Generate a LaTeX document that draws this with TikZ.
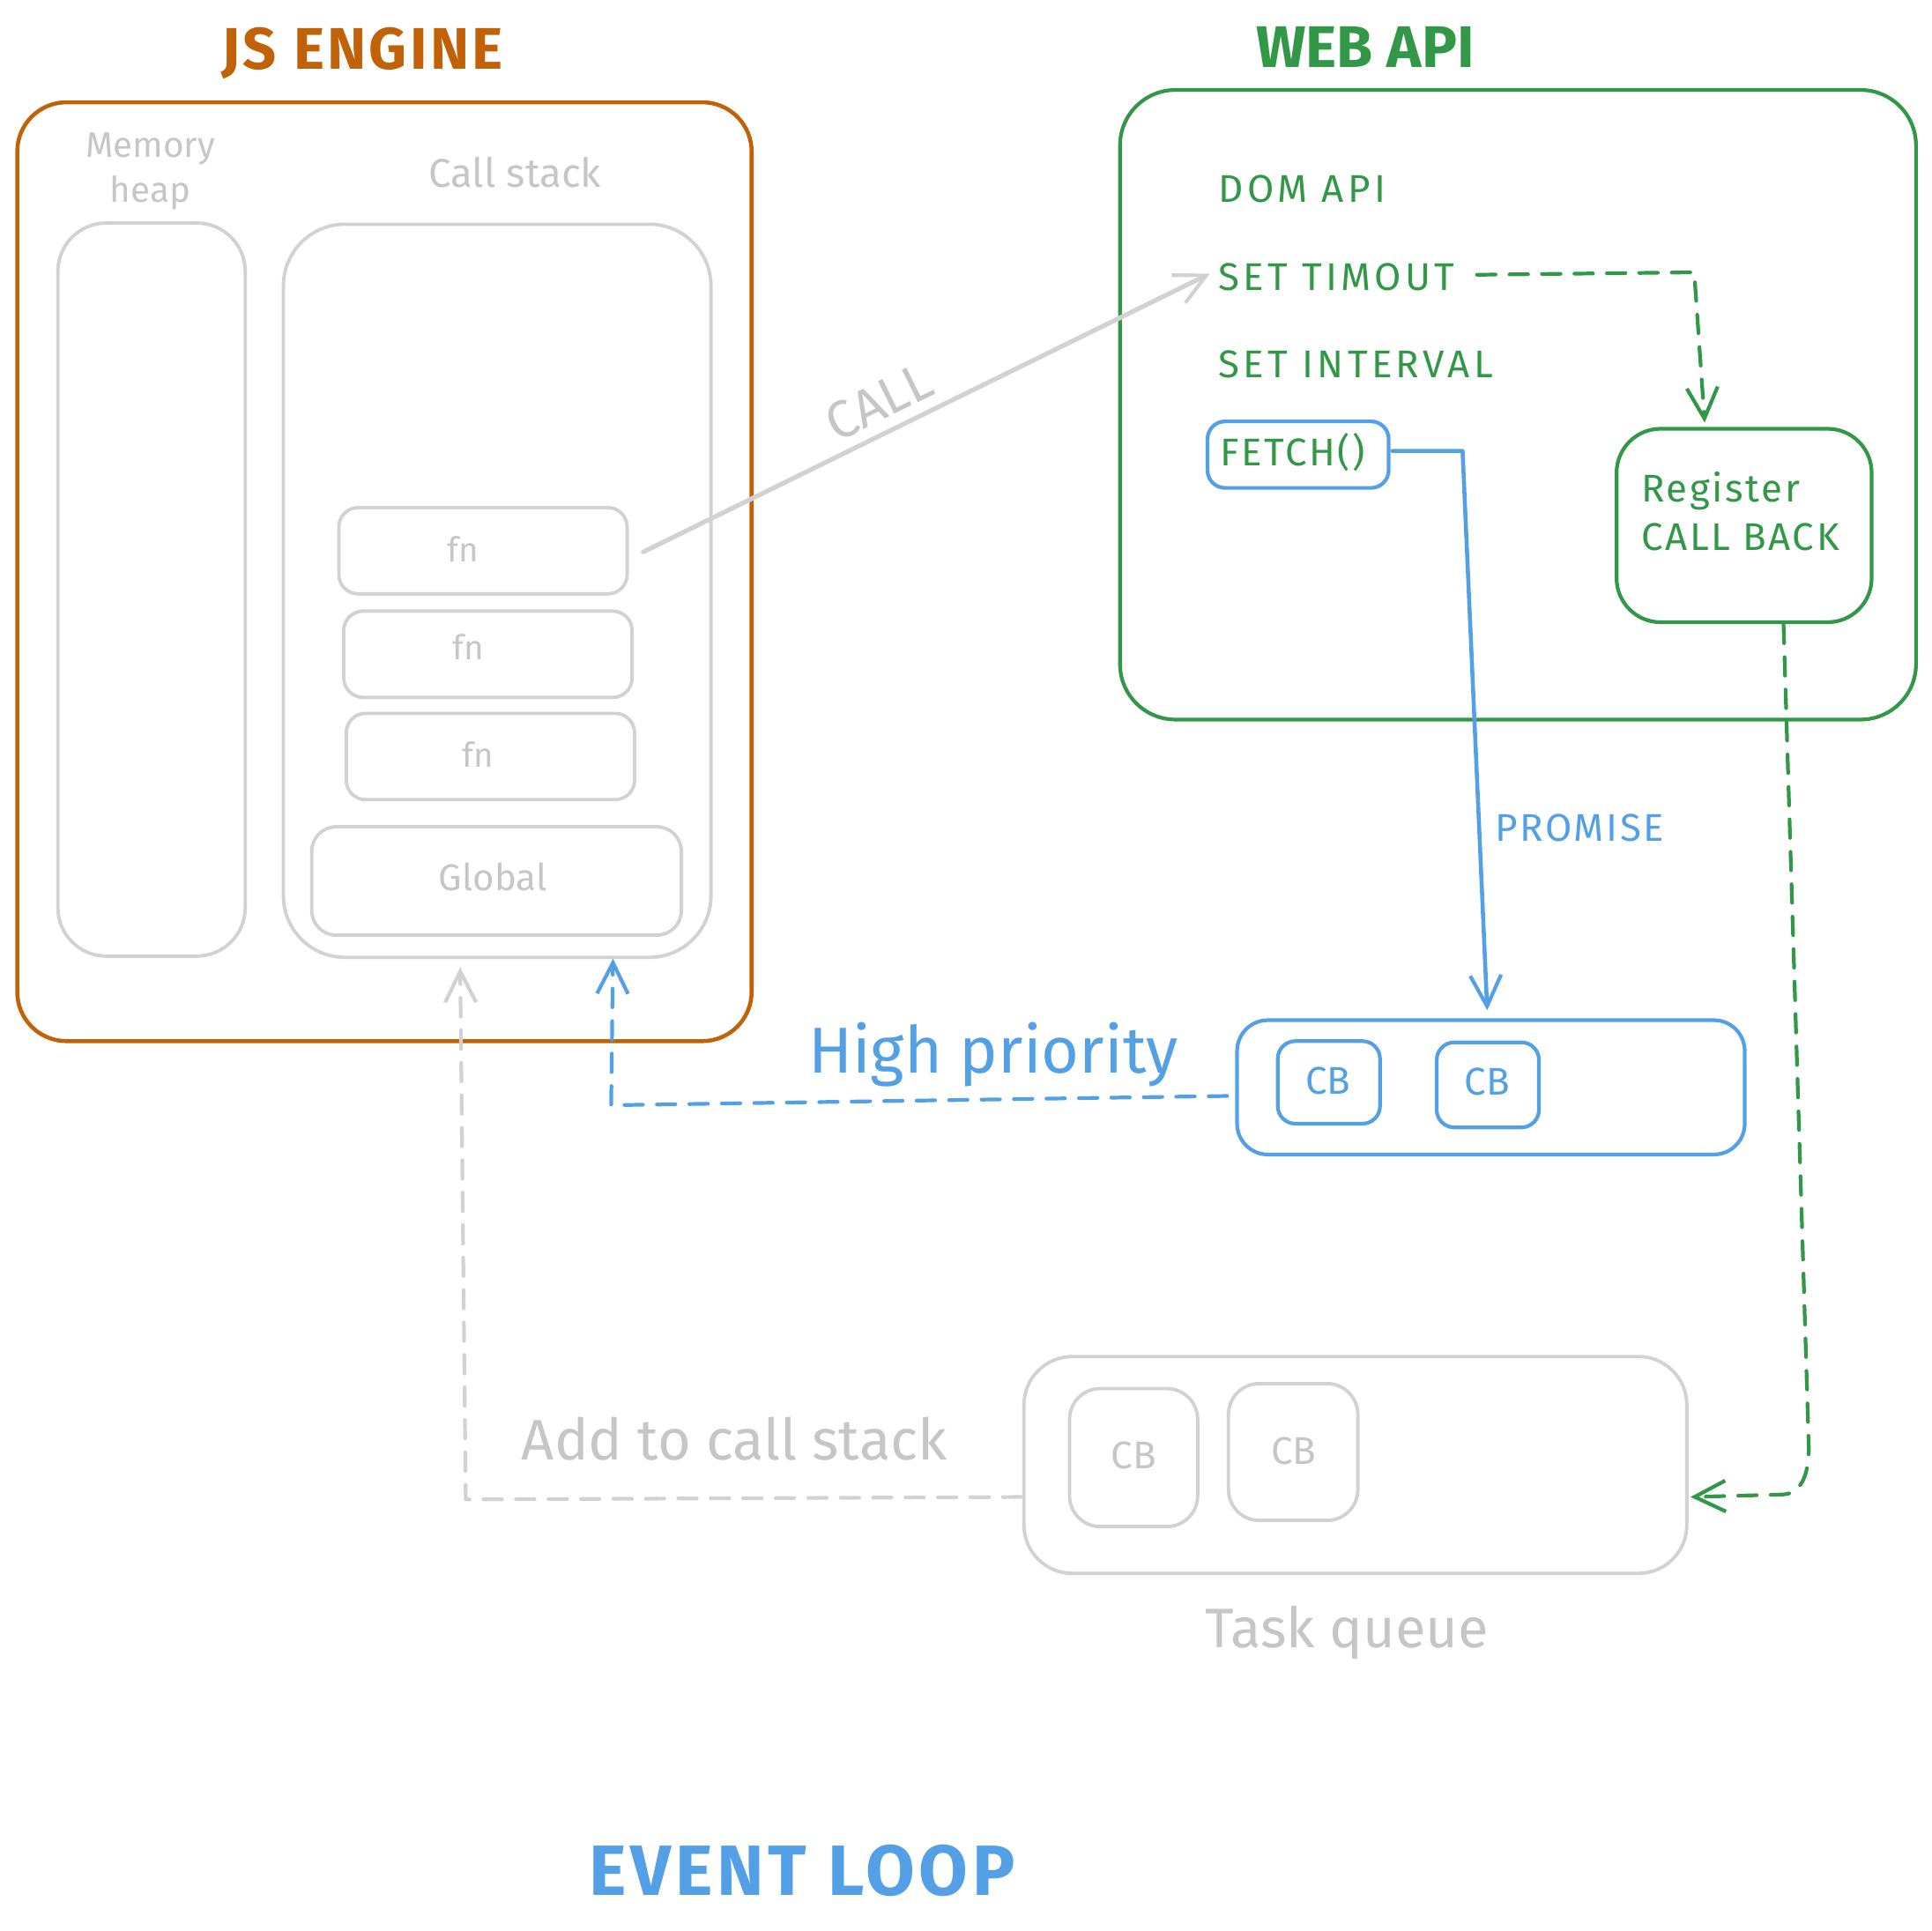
\documentclass[tikz,border=0pt]{standalone}
\usepackage{fontspec}
\setmainfont{Fira Sans}
\usetikzlibrary{arrows.meta}
\definecolor{jsor}{RGB}{193,98,8}
\definecolor{wgreen}{RGB}{50,152,72}
\definecolor{wblue}{RGB}{84,160,230}
\definecolor{lgray}{RGB}{210,210,210}
\definecolor{tgray}{RGB}{198,198,198}
\newcommand{\fs}[1]{\fontsize{#1}{\fpeval{#1*1.25}}\selectfont}
\newcommand{\wide}{\addfontfeatures{LetterSpace=10}}
\newcommand{\semiwide}{\addfontfeatures{LetterSpace=6}}
\newcommand{\bx}[6]{\node[#6, minimum width={(#4-#2)*0.014cm}, minimum height={(#5-#3)*0.014cm}] (#1) at ({(#2+#4)/2},{(#3+#5)/2}) {};}
\tikzset{
  anybox/.style={draw, rectangle, inner sep=0pt, outer sep=0pt},
  orbox/.style={anybox, draw=jsor, line width=1.3pt},
  gbox/.style={anybox, draw=lgray, line width=1.1pt},
  grbox/.style={anybox, draw=wgreen, line width=1.2pt},
  blbox/.style={anybox, draw=wblue, line width=1.2pt},
  txt/.style={inner sep=0pt, outer sep=0pt},
  gtxt/.style={txt, text=tgray},
  grtxt/.style={txt, text=wgreen},
  bltxt/.style={txt, text=wblue},
  tip/.style={-{Straight Barb[length=10pt,width=10pt,line width=1.2pt]}},
  dashy/.style={dash pattern=on 6pt off 4.5pt},
}
\begin{document}
\begin{tikzpicture}[x=0.014cm, y=-0.014cm, line cap=round, line join=round]
\useasboundingbox (0,0) rectangle (1568,1567);

% titles
\node[txt, text=jsor, font=\fs{19}\bfseries\addfontfeatures{LetterSpace=5}] (tjs) at (294,43) {JS ENGINE};
\node[txt, text=wgreen, font=\fs{19}\bfseries] (tweb) at (1108,38) {WEB API};

% JS engine
\bx{js}{14}{83}{610}{845}{orbox, rounded corners=0.56cm}
\bx{heap}{47}{181}{199}{776}{gbox, rounded corners=0.55cm}
\bx{cs}{230}{182}{577}{777}{gbox, rounded corners=0.7cm}
\bx{fnA}{275}{412}{509}{482}{gbox, rounded corners=0.22cm}
\bx{fnB}{279}{496}{513}{566}{gbox, rounded corners=0.22cm}
\bx{fnC}{281}{579}{515}{649}{gbox, rounded corners=0.22cm}
\bx{glob}{253}{671}{553}{759}{gbox, rounded corners=0.28cm}
\node[gtxt, font=\fs{11.5}, align=center] (theap) at (122,139) {Memory\\heap};
\node[gtxt, font=\fs{13}] (tcs) at (418,140) {Call stack};
\node[gtxt, font=\fs{11}] (tfnA) at (376,446) {fn};
\node[gtxt, font=\fs{11}] (tfnB) at (380,525) {fn};
\node[gtxt, font=\fs{11}] (tfnC) at (388,612) {fn};
\node[gtxt, font=\fs{12}] (tglob) at (400,712) {Global};

% Web API
\bx{web}{909}{73}{1555}{584}{grbox, rounded corners=0.63cm}
\node[grtxt, font=\fs{12.5}\wide, anchor=west] (dom) at (989,153) {DOM API};
\node[grtxt, font=\fs{12.5}\wide, anchor=west] (st) at (989,225) {SET TIMOUT};
\node[grtxt, font=\fs{12.5}\wide, anchor=west] (si) at (989,296) {SET INTERVAL};
\bx{fetch}{980}{342}{1127}{396}{blbox, rounded corners=0.2cm}
\node[grtxt, font=\fs{12.5}\semiwide] (tfetch) at (1049,367) {FETCH()};
\bx{reg}{1312}{348}{1519}{505}{grbox, rounded corners=0.5cm}
\node[grtxt, font=\fs{12.5}\semiwide, align=left, anchor=west] (treg) at (1332,415) {Register\\CALL BACK};

% microtask queue
\bx{mq}{1004}{828}{1416}{937}{blbox, rounded corners=0.35cm}
\bx{mqA}{1037}{845}{1120}{912}{blbox, rounded corners=0.2cm}
\bx{mqB}{1166}{846}{1249}{915}{blbox, rounded corners=0.2cm}
\node[bltxt, font=\fs{12.5}] (tmqA) at (1078,877) {CB};
\node[bltxt, font=\fs{12.5}] (tmqB) at (1207,878) {CB};
\node[bltxt, font=\fs{21}] (thp) at (806,856) {High priority};
\node[bltxt, font=\fs{12.5}\semiwide] (tprom) at (1282,672) {PROMISE};

% task queue
\bx{tq}{831}{1101}{1369}{1277}{gbox, rounded corners=0.55cm}
\bx{tqA}{868}{1127}{972}{1239}{gbox, rounded corners=0.35cm}
\bx{tqB}{997}{1123}{1102}{1234}{gbox, rounded corners=0.35cm}
\node[gtxt, font=\fs{12.5}] (ttqA) at (920,1181) {CB};
\node[gtxt, font=\fs{12.5}] (ttqB) at (1050,1178) {CB};
\node[gtxt, font=\fs{18}] (ttq) at (1093,1325) {Task queue};
\node[gtxt, font=\fs{18.5}] (tadd) at (596,1168) {Add to call stack};

\node[bltxt, font=\fs{23}\bfseries\addfontfeatures{LetterSpace=6}] (tel) at (651,1518) {EVENT LOOP};

% connectors
\draw[lgray, line width=1.5pt, tip] ([shift={(13,1)}]fnA.east) -- ([shift={(-7,-3)}]st.west)
  node[pos=0.44, sloped, above=4pt, gtxt, font=\fs{17}] (tcall) {CALL};

\coordinate (g1) at (1375,221);
\draw[wgreen, line width=1.2pt, dashy, tip] ([shift={(18,-2)}]st.east) -- (g1) -- ([shift={(-32,-5)}]reg.north);

\coordinate (b1) at (1187,366);
\draw[wblue, line width=1.3pt, tip] ([shift={(3,-3)}]fetch.east) -- (b1) -- ([shift={(-3,-8)}]mq.north);

\coordinate (b2) at (496,897);
\draw[wblue, line width=1.2pt, dashy, tip] ([shift={(-8,7)}]mq.west) -- (b2) -- ([shift={(94,1)}]cs.south);

\coordinate (a1) at (378,1217);
\draw[lgray, line width=1.2pt, dashy, tip] ([shift={(-2,26)}]tq.west) -- (a1) -- ([shift={(-30,8)}]cs.south);

\coordinate (r1) at (1468,1175);
\coordinate (r2) at (1446,1213);
\draw[wgreen, line width=1.2pt, dashy, tip] ([shift={(32,2)}]reg.south) -- (r1) .. controls (1468,1200) and (1460,1213) .. (r2) -- ([shift={(3,26)}]tq.east);
\end{tikzpicture}
\end{document}
